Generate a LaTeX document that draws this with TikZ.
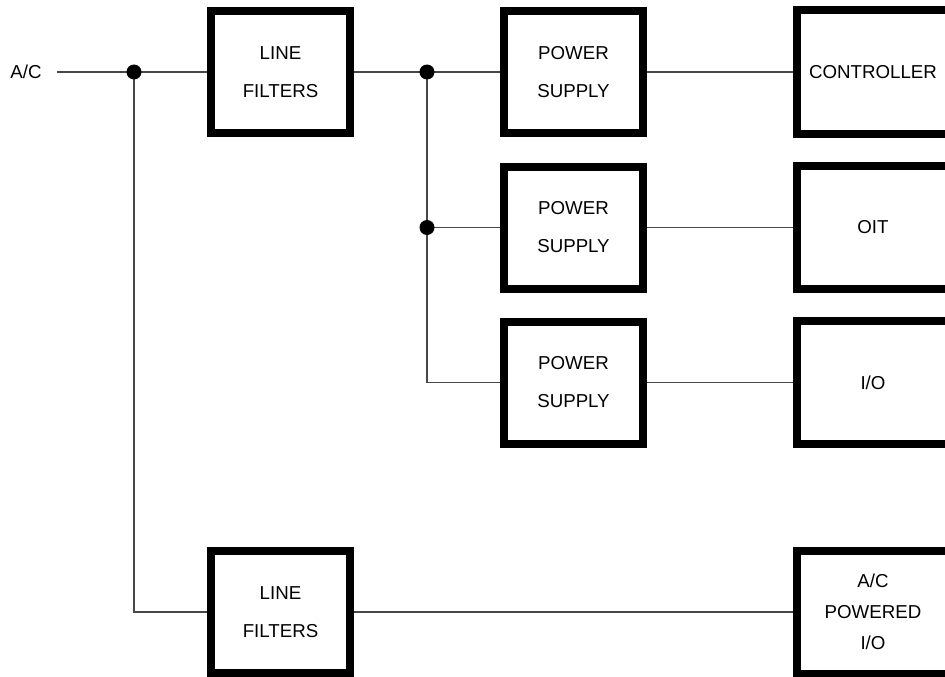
\documentclass[tikz,border=0pt]{standalone}
\usepackage{fontspec}
\setmainfont{Liberation Sans}
\begin{document}
\begin{tikzpicture}[x=1pt,y=-1pt,
  blk/.style={draw=black, line width=8pt, rectangle, inner sep=0pt, align=center,
    font=\fontsize{18.7}{38}\selectfont},
  smallblk/.style={blk, minimum width=139pt, minimum height=122pt},
  bigblk/.style={blk, minimum width=152pt, minimum height=123pt},
  wire/.style={draw=black!72, line width=1.2pt},
  dotnode/.style={circle, fill=black, inner sep=0pt, minimum size=15pt},
  lbl/.style={font=\fontsize{18.7}{22}\selectfont, inner xsep=15.5pt, inner ysep=0pt}]
\useasboundingbox (0,0) rectangle (945,677);
\clip (0,0) rectangle (945,677);
\fill[white] (0,0) rectangle (945,677);
% nodes
\node[lbl] (ac) at (26,72) {A/C};
\node[smallblk] (lf1) at (280.5,72) {LINE\\FILTERS};
\node[smallblk] (ps1) at (573.5,72) {POWER\\SUPPLY};
\node[smallblk] (ps2) at (573.5,227.5) {POWER\\SUPPLY};
\node[smallblk] (ps3) at (573.5,382.5) {POWER\\SUPPLY};
\node[bigblk] (ctrl) at (873,72) {CONTROLLER};
\node[bigblk] (oit) at (873,227.5) {OIT};
\node[bigblk] (io) at (873,382.5) {I/O};
\node[smallblk] (lf2) at (280.5,612) {LINE\\FILTERS};
\node[bigblk, font=\fontsize{18.7}{31}\selectfont] (acio) at (873,612) {A/C\\POWERED\\I/O};
\coordinate (d1) at (134,72);
\coordinate (d2) at (427,72);
\coordinate (d3) at (427,227.5);
% wires
\draw[wire] (ac.east) -- (lf1.west);
\draw[wire] (d1) |- (lf2.west);
\draw[wire] (lf1.east) -- (ps1.west);
\draw[wire] (d2) |- (ps3.west);
\draw[wire] (d3) -- (ps2.west);
\draw[wire] (ps1.east) -- (ctrl.west);
\draw[wire] (ps2.east) -- (oit.west);
\draw[wire] (ps3.east) -- (io.west);
\draw[wire] (lf2.east) -- (acio.west);
% junction dots
\node[dotnode] at (d1) {};
\node[dotnode] at (d2) {};
\node[dotnode] at (d3) {};
\end{tikzpicture}
\end{document}
